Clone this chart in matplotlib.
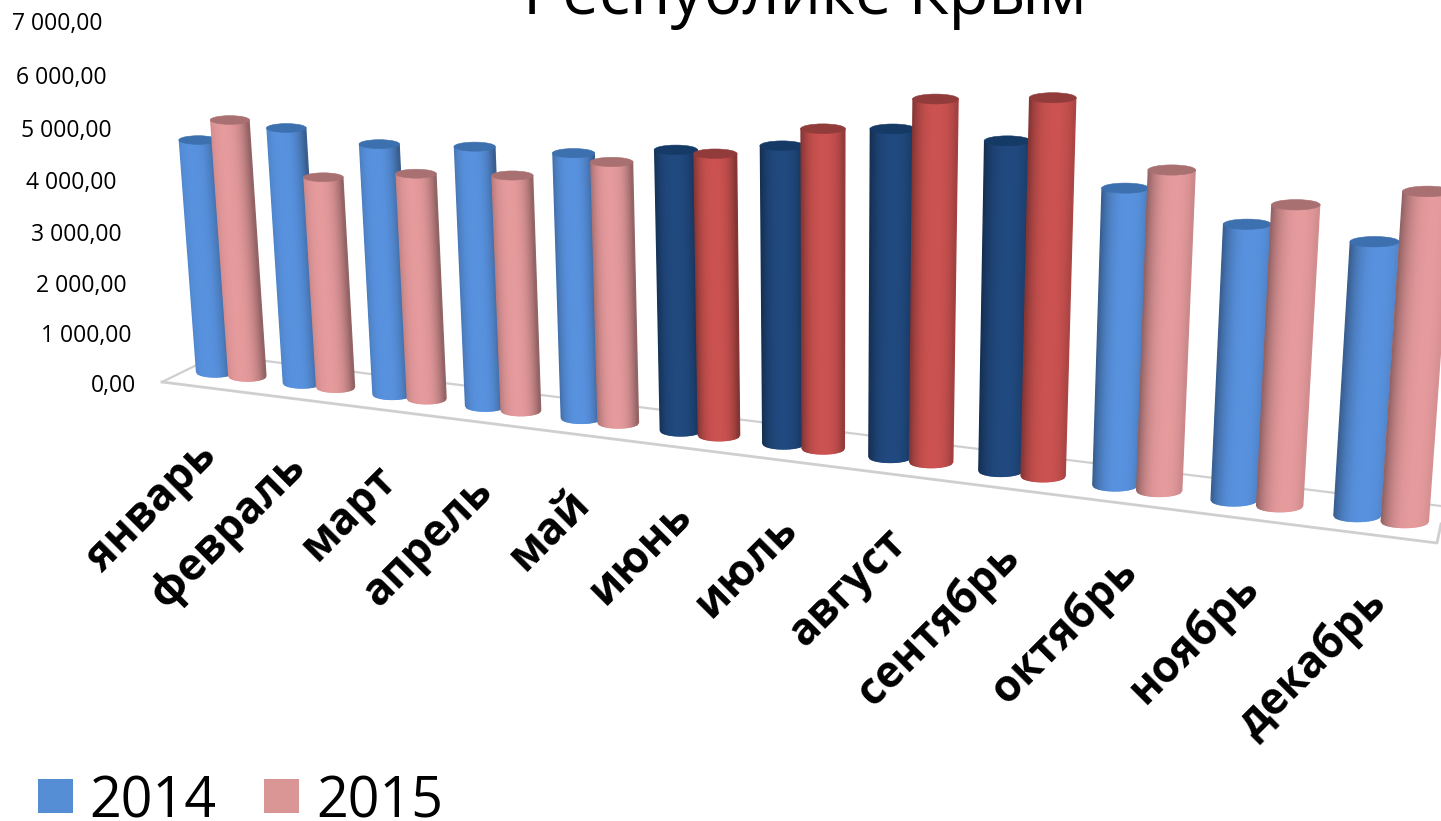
import numpy as np
import matplotlib
matplotlib.use("Agg")
import matplotlib.pyplot as plt
from matplotlib.collections import PolyCollection
from matplotlib.patches import Ellipse, Rectangle

plt.rcParams['font.family'] = ['Open Sans', 'DejaVu Sans']

months = ['январь', 'февраль', 'март', 'апрель', 'май', 'июнь', 'июль',
          'август', 'сентябрь', 'октябрь', 'ноябрь', 'декабрь']
values_2014 = [4377, 4735, 4570, 4660, 4682, 4878, 5085, 5503, 5437, 4806, 4381, 4268]
values_2015 = [4803, 3875, 4084, 4196, 4579, 4862, 5424, 6050, 6193, 5153, 4748, 5108]
highlighted_months = ['июнь', 'июль', 'август', 'сентябрь']
series_names = ['2014', '2015']
y_ticks = [0, 1000, 2000, 3000, 4000, 5000, 6000, 7000]
title = 'Республике Крым'

W, H = 1441, 821
fig = plt.figure(figsize=(W / 100, H / 100), dpi=100)
ax = fig.add_axes([0, 0, 1, 1])
ax.set_xlim(0, W)
ax.set_ylim(H, 0)
ax.axis('off')

# Perspective projection of the chart plane
G = 0.0158
VP = (830.0, 8900.0)


def base(t):
    w = 1 - G * t
    return (215 + 82.4 * t) / w, (372 + 4.9 * t) / w


def scale(t):
    return 1 / (1 - G * t)


def shade(color, f):
    c = np.array(matplotlib.colors.to_rgb(color))
    return tuple(np.clip(c * f, 0, 1))


def cylinder(t, value, body, cap):
    bx, by = base(t)
    s = scale(t)
    h = value / 1000 * 53 * s
    k = h / (VP[1] - by)
    tx, ty = bx + (bx - VP[0]) * k, by - h
    r = 18.4 * s + 0.1 * t
    r0, r1 = r, r * (1 + k)
    ry0, ry1 = 5.0 * s, 4.2 * s * (1 + k)
    u = np.linspace(-1, 1, 31)
    arc = np.sqrt(np.clip(1 - u ** 2, 0, 1))
    u0 = (t - 5.5) / 5.5 * 0.3
    polys, cols = [], []
    for j in range(len(u) - 1):
        polys.append([(bx + r0 * u[j], by + ry0 * arc[j]),
                      (bx + r0 * u[j + 1], by + ry0 * arc[j + 1]),
                      (tx + r1 * u[j + 1], ty + ry1 * arc[j + 1]),
                      (tx + r1 * u[j], ty + ry1 * arc[j])])
        um = 0.5 * (u[j] + u[j + 1])
        d = abs(um - u0) / (1 + abs(u0))
        cols.append(shade(body, 1 - 0.38 * d ** 2.6))
    ax.add_collection(PolyCollection(polys, facecolors=cols, edgecolors=cols,
                                     linewidths=1.0, zorder=3 + t / 100))
    ax.add_patch(Ellipse((tx, ty), 2 * r1 + 1, 2 * ry1, facecolor=cap, edgecolor=cap,
                         linewidth=0.4, zorder=3 + t / 100))


# Floor
floor_c = '#cfcfcf'
ax.plot([162, 217, 1441], [382, 355, 506], color=floor_c, lw=1.6, zorder=1)
ax.plot([162, 1437, 1441], [382, 543, 524], color=floor_c, lw=2.0, zorder=1)

# Bars
palette = {0: ('#5892DF', '#3D70AE'), 1: ('#E59A9C', '#A87071')}
palette_hi = {0: ('#20497F', '#153A66'), 1: ('#CB5250', '#913C3B')}
for s, vals in enumerate([values_2014, values_2015]):
    for i, v in enumerate(vals):
        body, cap = (palette_hi if months[i] in highlighted_months else palette)[s]
        cylinder(i + 0.375 * s, v, body, cap)

# Value axis labels (the axis recedes, so spacing widens slightly upward)
for v in y_ticks:
    label = f'{v:,.2f}'.replace(',', ' ').replace('.', ',')
    k = v / 1000
    ax.text(136 - 34 * k / 7, 386 - 49.6 * k - 0.3 * k ** 2, label, ha='right', va='center',
            fontsize=16.5, color='#000000')

# Category labels
for i, m in enumerate(months):
    t = i - 0.11 + 0.0227 * i
    x, y = base(t)
    ax.text(x + 4, y + 79, m, rotation=45, rotation_mode='anchor', ha='right', va='center',
            fontsize=31.5, fontweight='bold', color='#000000')

# Title, cut by the top edge
ax.text(805, 14, title, ha='center', va='baseline', fontsize=47, color='#000000', clip_on=False)

# Legend
for name, x0, col, tx in zip(series_names, [38, 264], ['#558ED5', '#D99694'], [89, 316]):
    ax.add_patch(Rectangle((x0, 779), 35, 34, facecolor=col, edgecolor='none'))
    ax.text(tx, 817, name, ha='left', va='baseline', fontsize=40, color='#000000')

fig.savefig('out.png', dpi=100)
